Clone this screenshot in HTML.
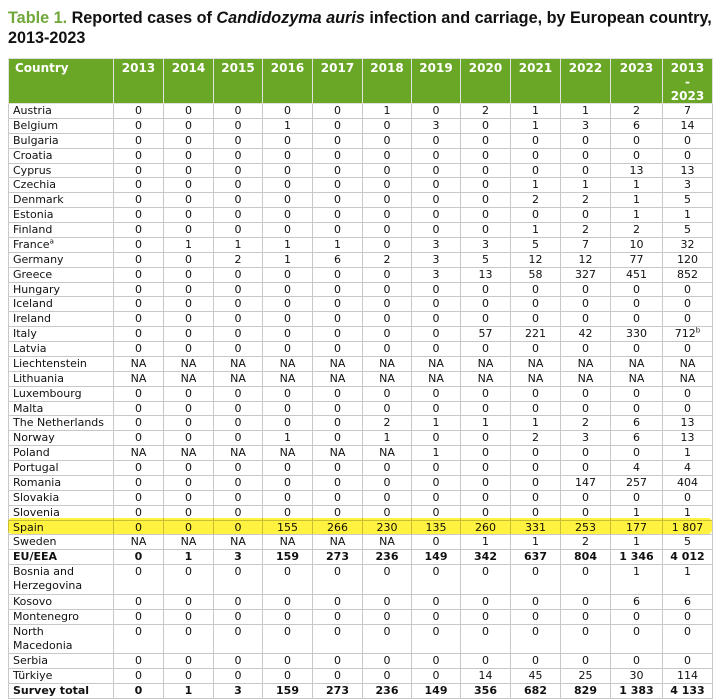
<!DOCTYPE html>
<html><head><meta charset="utf-8"><style>
body{margin:0;width:716px;height:700px;background:#fff;font-family:"DejaVu Sans","Liberation Sans",sans-serif;position:relative;overflow:hidden}
.t{position:absolute;left:8px;top:8px;font-family:"Liberation Sans",sans-serif;font-weight:bold;font-size:16.2px;line-height:20px;color:#111;white-space:nowrap}
.t .g{color:#70a83a}
table{position:absolute;left:8px;top:58px;border-collapse:collapse;table-layout:fixed;width:704px;font-size:11px;color:#111}
td,th{border:1px solid #c8c8c8;padding:0;text-align:center;line-height:13.875px;height:13.875px;white-space:nowrap;overflow:hidden}
th{background:#6aa727;color:#fff;font-weight:bold;font-size:12px;vertical-align:top;height:41px;line-height:14px;padding-top:2px;border-color:#e0e0e0}
th.c{text-align:left;padding-left:6px}
td:first-child{text-align:left;padding-left:4px}
tr.b td{font-weight:bold}
td.w{vertical-align:top;white-space:normal}
tr.d td{height:28.75px;vertical-align:top}
sup{font-size:7px;line-height:0}
.hl{position:absolute;left:8px;top:518px;width:704px;height:16px;background:rgba(255,238,0,0.75);border-radius:4px;mix-blend-mode:multiply}
</style></head><body>
<div class="t"><span class="g">Table 1.</span> Reported cases of <i>Candidozyma auris</i> infection and carriage, by European country,<br>2013-2023</div>
<table>
<colgroup><col style="width:105px"><col style="width:50px"><col style="width:50px"><col style="width:49px"><col style="width:50px"><col style="width:50px"><col style="width:49px"><col style="width:49px"><col style="width:50px"><col style="width:50px"><col style="width:50px"><col style="width:52px"><col style="width:50px"></colgroup>
<tr><th class="c">Country</th><th>2013</th><th>2014</th><th>2015</th><th>2016</th><th>2017</th><th>2018</th><th>2019</th><th>2020</th><th>2021</th><th>2022</th><th>2023</th><th>2013<br>-<br>2023</th></tr>
<tr><td>Austria</td><td>0</td><td>0</td><td>0</td><td>0</td><td>0</td><td>1</td><td>0</td><td>2</td><td>1</td><td>1</td><td>2</td><td>7</td></tr>
<tr><td>Belgium</td><td>0</td><td>0</td><td>0</td><td>1</td><td>0</td><td>0</td><td>3</td><td>0</td><td>1</td><td>3</td><td>6</td><td>14</td></tr>
<tr><td>Bulgaria</td><td>0</td><td>0</td><td>0</td><td>0</td><td>0</td><td>0</td><td>0</td><td>0</td><td>0</td><td>0</td><td>0</td><td>0</td></tr>
<tr><td>Croatia</td><td>0</td><td>0</td><td>0</td><td>0</td><td>0</td><td>0</td><td>0</td><td>0</td><td>0</td><td>0</td><td>0</td><td>0</td></tr>
<tr><td>Cyprus</td><td>0</td><td>0</td><td>0</td><td>0</td><td>0</td><td>0</td><td>0</td><td>0</td><td>0</td><td>0</td><td>13</td><td>13</td></tr>
<tr><td>Czechia</td><td>0</td><td>0</td><td>0</td><td>0</td><td>0</td><td>0</td><td>0</td><td>0</td><td>1</td><td>1</td><td>1</td><td>3</td></tr>
<tr><td>Denmark</td><td>0</td><td>0</td><td>0</td><td>0</td><td>0</td><td>0</td><td>0</td><td>0</td><td>2</td><td>2</td><td>1</td><td>5</td></tr>
<tr><td>Estonia</td><td>0</td><td>0</td><td>0</td><td>0</td><td>0</td><td>0</td><td>0</td><td>0</td><td>0</td><td>0</td><td>1</td><td>1</td></tr>
<tr><td>Finland</td><td>0</td><td>0</td><td>0</td><td>0</td><td>0</td><td>0</td><td>0</td><td>0</td><td>1</td><td>2</td><td>2</td><td>5</td></tr>
<tr><td>France<sup>a</sup></td><td>0</td><td>1</td><td>1</td><td>1</td><td>1</td><td>0</td><td>3</td><td>3</td><td>5</td><td>7</td><td>10</td><td>32</td></tr>
<tr><td>Germany</td><td>0</td><td>0</td><td>2</td><td>1</td><td>6</td><td>2</td><td>3</td><td>5</td><td>12</td><td>12</td><td>77</td><td>120</td></tr>
<tr><td>Greece</td><td>0</td><td>0</td><td>0</td><td>0</td><td>0</td><td>0</td><td>3</td><td>13</td><td>58</td><td>327</td><td>451</td><td>852</td></tr>
<tr><td>Hungary</td><td>0</td><td>0</td><td>0</td><td>0</td><td>0</td><td>0</td><td>0</td><td>0</td><td>0</td><td>0</td><td>0</td><td>0</td></tr>
<tr><td>Iceland</td><td>0</td><td>0</td><td>0</td><td>0</td><td>0</td><td>0</td><td>0</td><td>0</td><td>0</td><td>0</td><td>0</td><td>0</td></tr>
<tr><td>Ireland</td><td>0</td><td>0</td><td>0</td><td>0</td><td>0</td><td>0</td><td>0</td><td>0</td><td>0</td><td>0</td><td>0</td><td>0</td></tr>
<tr><td>Italy</td><td>0</td><td>0</td><td>0</td><td>0</td><td>0</td><td>0</td><td>0</td><td>57</td><td>221</td><td>42</td><td>330</td><td>712<sup>b</sup></td></tr>
<tr><td>Latvia</td><td>0</td><td>0</td><td>0</td><td>0</td><td>0</td><td>0</td><td>0</td><td>0</td><td>0</td><td>0</td><td>0</td><td>0</td></tr>
<tr><td>Liechtenstein</td><td>NA</td><td>NA</td><td>NA</td><td>NA</td><td>NA</td><td>NA</td><td>NA</td><td>NA</td><td>NA</td><td>NA</td><td>NA</td><td>NA</td></tr>
<tr><td>Lithuania</td><td>NA</td><td>NA</td><td>NA</td><td>NA</td><td>NA</td><td>NA</td><td>NA</td><td>NA</td><td>NA</td><td>NA</td><td>NA</td><td>NA</td></tr>
<tr><td>Luxembourg</td><td>0</td><td>0</td><td>0</td><td>0</td><td>0</td><td>0</td><td>0</td><td>0</td><td>0</td><td>0</td><td>0</td><td>0</td></tr>
<tr><td>Malta</td><td>0</td><td>0</td><td>0</td><td>0</td><td>0</td><td>0</td><td>0</td><td>0</td><td>0</td><td>0</td><td>0</td><td>0</td></tr>
<tr><td>The Netherlands</td><td>0</td><td>0</td><td>0</td><td>0</td><td>0</td><td>2</td><td>1</td><td>1</td><td>1</td><td>2</td><td>6</td><td>13</td></tr>
<tr><td>Norway</td><td>0</td><td>0</td><td>0</td><td>1</td><td>0</td><td>1</td><td>0</td><td>0</td><td>2</td><td>3</td><td>6</td><td>13</td></tr>
<tr><td>Poland</td><td>NA</td><td>NA</td><td>NA</td><td>NA</td><td>NA</td><td>NA</td><td>1</td><td>0</td><td>0</td><td>0</td><td>0</td><td>1</td></tr>
<tr><td>Portugal</td><td>0</td><td>0</td><td>0</td><td>0</td><td>0</td><td>0</td><td>0</td><td>0</td><td>0</td><td>0</td><td>4</td><td>4</td></tr>
<tr><td>Romania</td><td>0</td><td>0</td><td>0</td><td>0</td><td>0</td><td>0</td><td>0</td><td>0</td><td>0</td><td>147</td><td>257</td><td>404</td></tr>
<tr><td>Slovakia</td><td>0</td><td>0</td><td>0</td><td>0</td><td>0</td><td>0</td><td>0</td><td>0</td><td>0</td><td>0</td><td>0</td><td>0</td></tr>
<tr><td>Slovenia</td><td>0</td><td>0</td><td>0</td><td>0</td><td>0</td><td>0</td><td>0</td><td>0</td><td>0</td><td>0</td><td>1</td><td>1</td></tr>
<tr><td>Spain</td><td>0</td><td>0</td><td>0</td><td>155</td><td>266</td><td>230</td><td>135</td><td>260</td><td>331</td><td>253</td><td>177</td><td>1 807</td></tr>
<tr><td>Sweden</td><td>NA</td><td>NA</td><td>NA</td><td>NA</td><td>NA</td><td>NA</td><td>0</td><td>1</td><td>1</td><td>2</td><td>1</td><td>5</td></tr>
<tr class="b"><td>EU/EEA</td><td>0</td><td>1</td><td>3</td><td>159</td><td>273</td><td>236</td><td>149</td><td>342</td><td>637</td><td>804</td><td>1 346</td><td>4 012</td></tr>
<tr class="d"><td class="w">Bosnia and<br>Herzegovina</td><td>0</td><td>0</td><td>0</td><td>0</td><td>0</td><td>0</td><td>0</td><td>0</td><td>0</td><td>0</td><td>1</td><td>1</td></tr>
<tr><td>Kosovo</td><td>0</td><td>0</td><td>0</td><td>0</td><td>0</td><td>0</td><td>0</td><td>0</td><td>0</td><td>0</td><td>6</td><td>6</td></tr>
<tr><td>Montenegro</td><td>0</td><td>0</td><td>0</td><td>0</td><td>0</td><td>0</td><td>0</td><td>0</td><td>0</td><td>0</td><td>0</td><td>0</td></tr>
<tr class="d"><td class="w">North<br>Macedonia</td><td>0</td><td>0</td><td>0</td><td>0</td><td>0</td><td>0</td><td>0</td><td>0</td><td>0</td><td>0</td><td>0</td><td>0</td></tr>
<tr><td>Serbia</td><td>0</td><td>0</td><td>0</td><td>0</td><td>0</td><td>0</td><td>0</td><td>0</td><td>0</td><td>0</td><td>0</td><td>0</td></tr>
<tr><td>Türkiye</td><td>0</td><td>0</td><td>0</td><td>0</td><td>0</td><td>0</td><td>0</td><td>14</td><td>45</td><td>25</td><td>30</td><td>114</td></tr>
<tr class="b"><td>Survey total</td><td>0</td><td>1</td><td>3</td><td>159</td><td>273</td><td>236</td><td>149</td><td>356</td><td>682</td><td>829</td><td>1 383</td><td>4 133</td></tr>
</table>
<div class="hl"></div>
</body></html>
